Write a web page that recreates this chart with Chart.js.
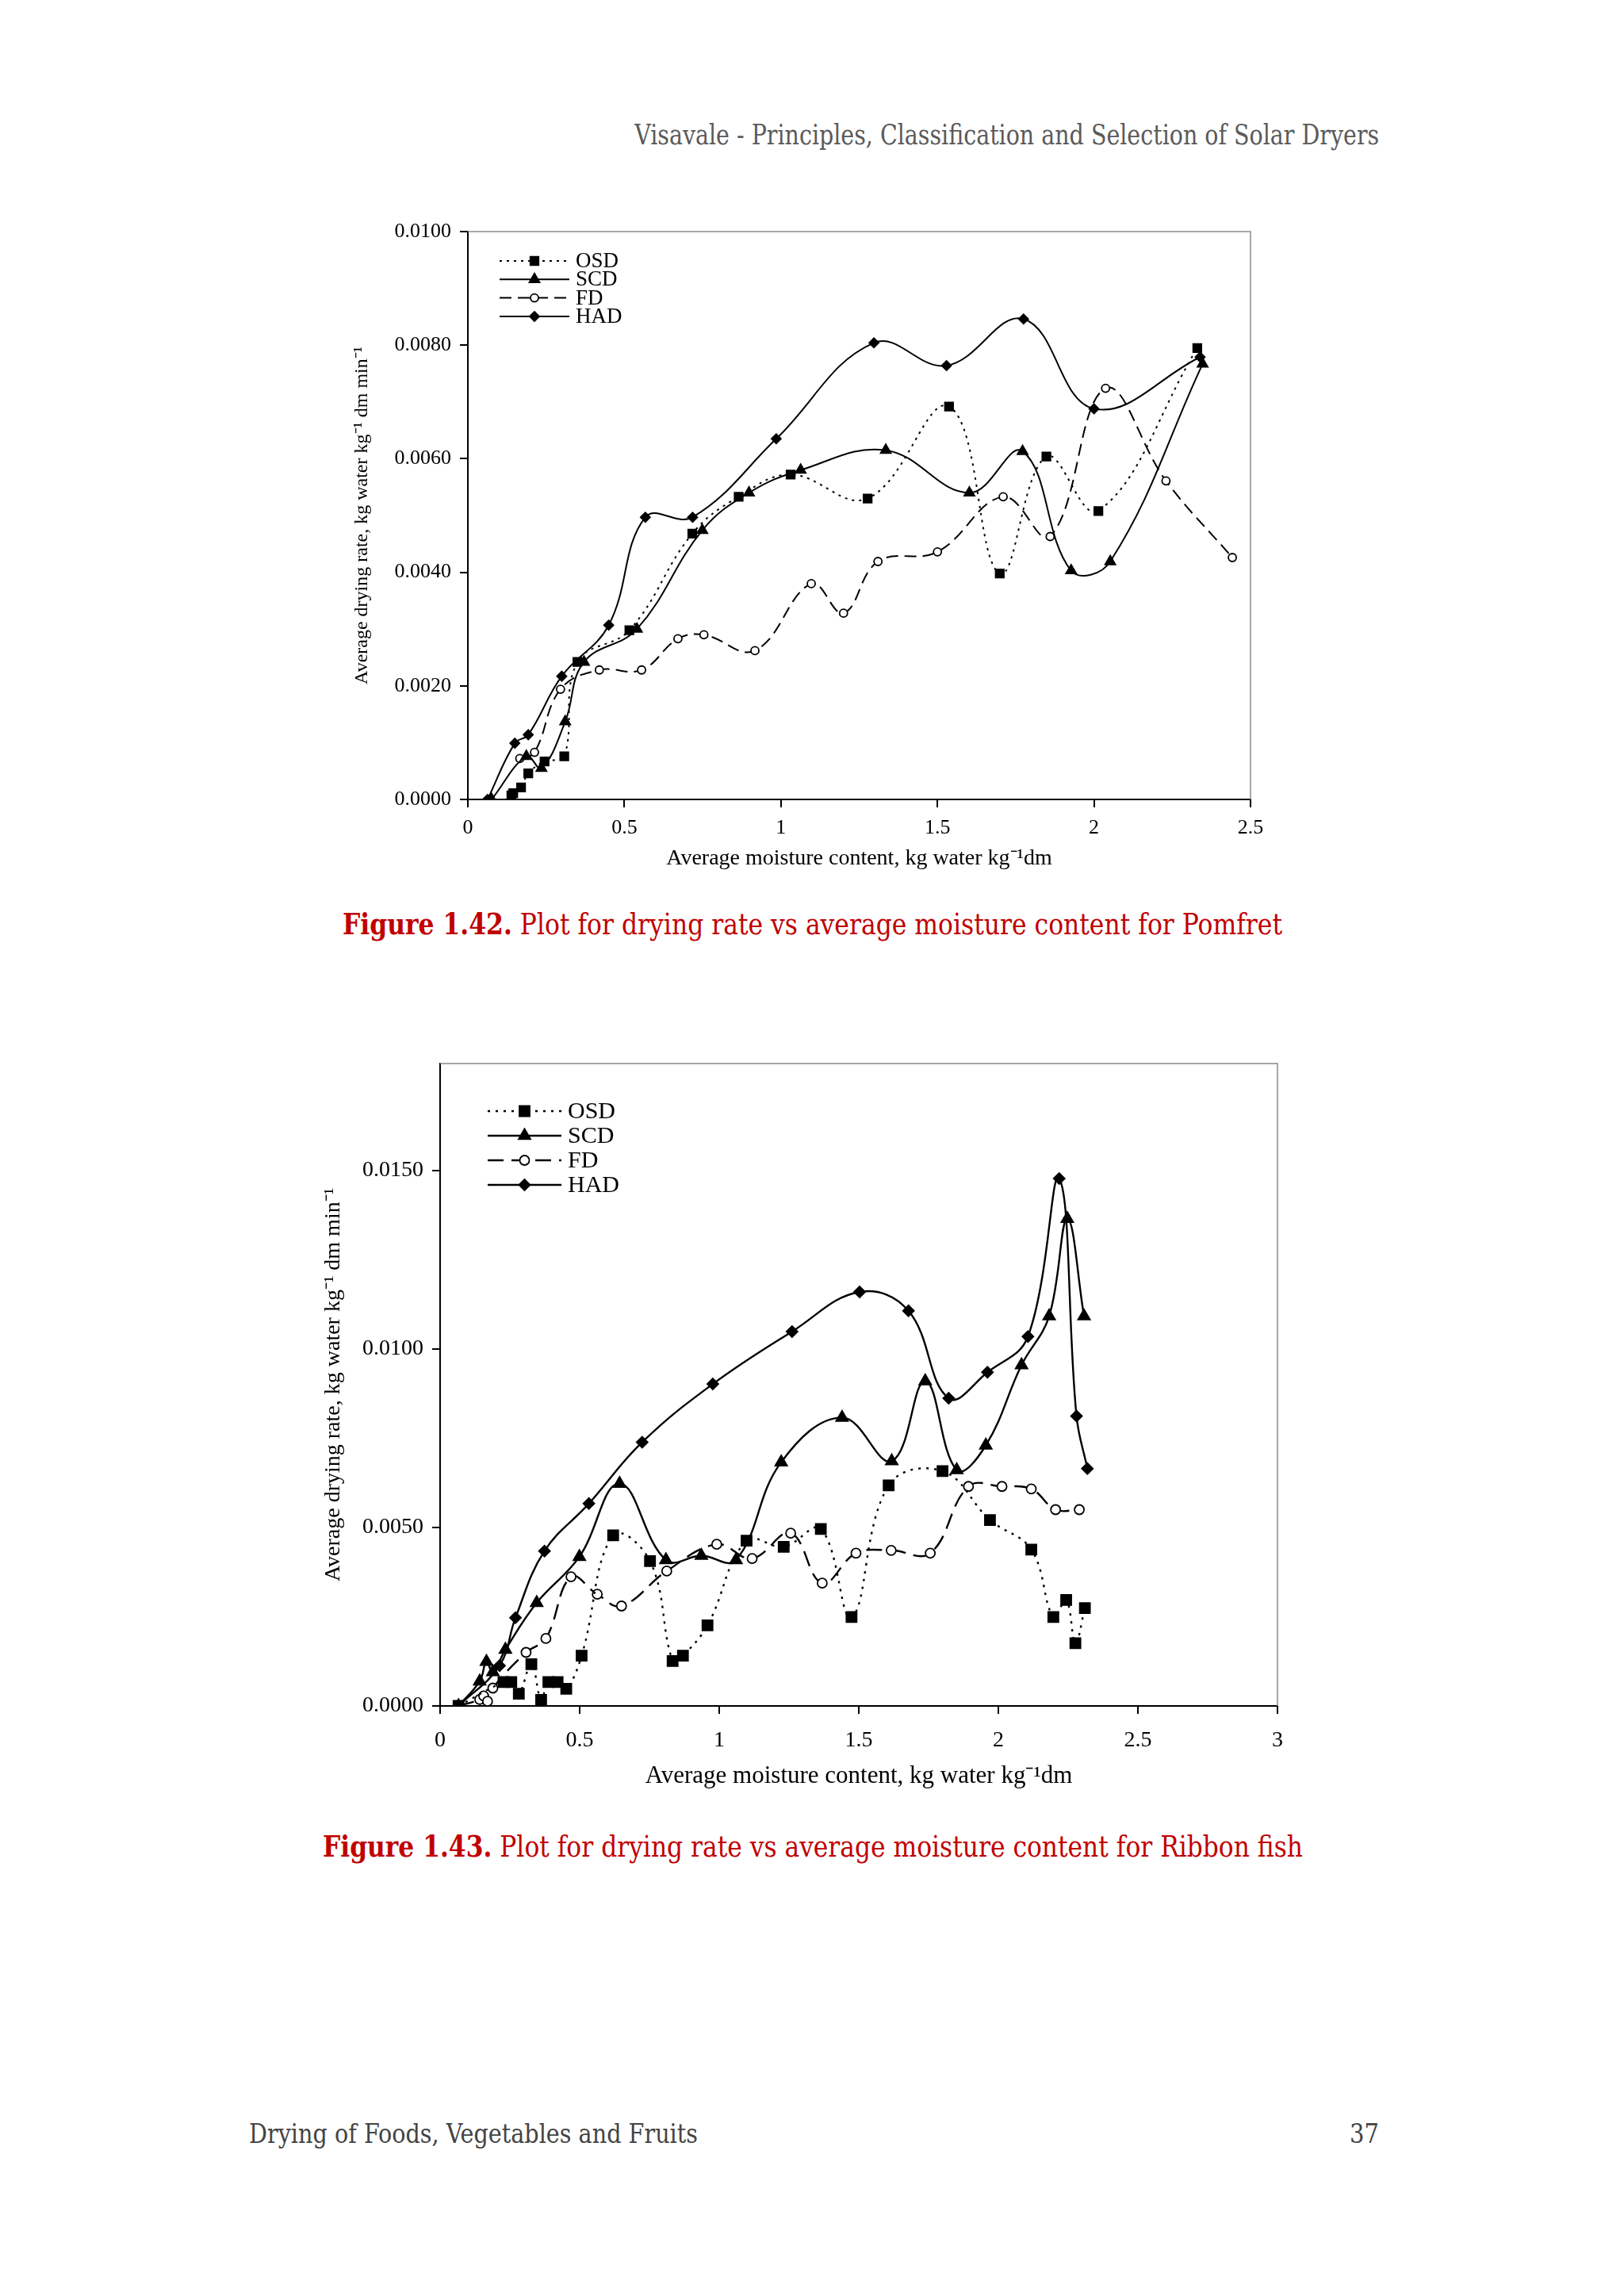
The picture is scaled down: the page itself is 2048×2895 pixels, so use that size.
<!DOCTYPE html>
<html>
<head>
<meta charset="utf-8">
<script src="https://cdn.jsdelivr.net/npm/chart.js@4.4.1/dist/chart.umd.min.js"></script>
<style>
  html, body { margin: 0; padding: 0; background: #fff; }
  body { width: 2048px; height: 2895px; position: relative; overflow: hidden; }
  .txt { position: absolute; white-space: nowrap; line-height: 1; display: inline-block; }
  #header { font-family: "DejaVu Serif", serif; font-stretch: condensed; color: #5a5a5a; font-size: 36px; transform-origin: right center; }
  .cap { font-family: "DejaVu Serif", serif; font-stretch: condensed; color: #c00000; font-size: 37px; transform-origin: left center; }
  #footer, #pageno { font-family: "DejaVu Serif", serif; font-stretch: condensed; color: #444; font-size: 34px; }
  #footer { transform-origin: left center; }
  #pageno { transform-origin: right center; }
  canvas { position: absolute; }
</style>
</head>
<body>
<div id="header" class="txt fit" data-w="939" data-r="1739" style="top:152px">Visavale - Principles, Classification and Selection of Solar Dryers</div>

<canvas id="chart1" width="1220" height="880" style="left:400px; top:262px"></canvas>
<div id="cap1" class="txt cap fit" data-w="1185" style="left:432px; top:1147px"><b>Figure 1.42.</b> Plot for drying rate vs average moisture content for Pomfret</div>

<canvas id="chart2" width="1270" height="960" style="left:380px; top:1310px"></canvas>
<div id="cap2" class="txt cap fit" data-w="1236" style="left:407px; top:2310px"><b>Figure 1.43.</b> Plot for drying rate vs average moisture content for Ribbon fish</div>

<div id="footer" class="txt fit" data-w="566" style="left:314px; top:2673px">Drying of Foods, Vegetables and Fruits</div>
<div id="pageno" class="txt fit" data-w="37" data-r="1739" style="top:2673px">37</div>

<script>
// ─── Figure 1.42 — Pomfret ───────────────────────────────────────────────
const pomOsdX = [0.139, 0.145, 0.170, 0.193, 0.245, 0.308, 0.350, 0.516, 0.717, 0.865, 1.031, 1.277, 1.537, 1.699, 1.848, 2.014, 2.330];
const pomOsdY = [0.00007, 0.00011, 0.00021, 0.00046, 0.00067, 0.00076, 0.00242, 0.00298, 0.00468, 0.00533, 0.00572, 0.00530, 0.00692, 0.00398, 0.00604, 0.00508, 0.00795];
const pomScdX = [0.076, 0.187, 0.235, 0.311, 0.371, 0.540, 0.749, 0.898, 1.063, 1.335, 1.602, 1.772, 1.927, 2.052, 2.347];
const pomScdY = [0.0000, 0.00076, 0.00055, 0.00137, 0.00242, 0.00300, 0.00474, 0.00540, 0.00580, 0.00615, 0.00540, 0.00613, 0.00403, 0.00419, 0.00767];
const pomFdX = [0.166, 0.213, 0.296, 0.420, 0.555, 0.671, 0.754, 0.917, 1.097, 1.200, 1.310, 1.500, 1.710, 1.860, 2.037, 2.230, 2.442];
const pomFdY = [0.00072, 0.00083, 0.00194, 0.00228, 0.00228, 0.00283, 0.00290, 0.00262, 0.00380, 0.00328, 0.00419, 0.00436, 0.00533, 0.00463, 0.00724, 0.00561, 0.00426];
const pomHadX = [0.063, 0.150, 0.193, 0.300, 0.450, 0.567, 0.718, 0.985, 1.297, 1.529, 1.775, 2.000, 2.339];
const pomHadY = [0.0000, 0.00099, 0.00114, 0.00217, 0.00307, 0.00497, 0.00497, 0.00635, 0.00804, 0.00764, 0.00846, 0.00688, 0.00779];

// ─── Figure 1.43 — Ribbon fish ───────────────────────────────────────────
const ribOsdX = [0.066, 0.227, 0.255, 0.282, 0.327, 0.362, 0.388, 0.421, 0.452, 0.507, 0.620, 0.752, 0.833, 0.870, 0.958, 1.098, 1.231, 1.364, 1.474, 1.607, 1.800, 1.970, 2.118, 2.197, 2.243, 2.276, 2.310];
const ribOsdY = [0.0000, 0.00067, 0.00067, 0.00034, 0.00117, 0.00017, 0.00067, 0.00067, 0.00048, 0.00141, 0.00478, 0.00406, 0.00126, 0.00141, 0.00226, 0.00463, 0.00446, 0.00496, 0.00249, 0.00618, 0.00658, 0.00521, 0.00438, 0.00249, 0.00297, 0.00176, 0.00274];
const ribScdX = [0.066, 0.142, 0.166, 0.189, 0.234, 0.346, 0.499, 0.643, 0.809, 0.936, 1.060, 1.222, 1.440, 1.618, 1.738, 1.851, 1.955, 2.083, 2.182, 2.247, 2.307];
const ribScdY = [0.0000, 0.00069, 0.00124, 0.00095, 0.00158, 0.00289, 0.00418, 0.00623, 0.00409, 0.00421, 0.00409, 0.00683, 0.00808, 0.00686, 0.00910, 0.00661, 0.00730, 0.00955, 0.01092, 0.01365, 0.01092];
const ribFdX = [0.066, 0.142, 0.156, 0.170, 0.189, 0.308, 0.379, 0.469, 0.563, 0.650, 0.812, 0.991, 1.118, 1.256, 1.369, 1.490, 1.616, 1.756, 1.893, 2.013, 2.118, 2.205, 2.290];
const ribFdY = [0.0000, 0.00018, 0.00028, 0.00013, 0.00050, 0.00150, 0.00189, 0.00362, 0.00313, 0.00280, 0.00378, 0.00453, 0.00413, 0.00484, 0.00344, 0.00428, 0.00436, 0.00428, 0.00615, 0.00615, 0.00608, 0.00550, 0.00550];
const ribHadX = [0.066, 0.213, 0.270, 0.374, 0.533, 0.724, 0.977, 1.261, 1.503, 1.678, 1.822, 1.961, 2.106, 2.218, 2.280, 2.319];
const ribHadY = [0.0000, 0.00113, 0.00247, 0.00434, 0.00567, 0.00739, 0.00902, 0.01049, 0.01160, 0.01107, 0.00862, 0.00935, 0.01035, 0.01478, 0.00812, 0.00665];

const seriesNames = ['OSD', 'SCD', 'FD', 'HAD'];
const xTitle = 'Average moisture content, kg water kg\u207B\u00B9dm';
const yTitle = 'Average drying rate, kg water kg\u207B\u00B9 dm min\u207B\u00B9';

const FONT = '"Liberation Serif", "Times New Roman", serif';
const zip = (xs, ys) => xs.map((x, i) => ({ x, y: ys[i] }));

// ─── Fit page text to measured widths ────────────────────────────────────

document.querySelectorAll('.fit').forEach(el => {
  const w = el.getBoundingClientRect().width;
  const target = +el.dataset.w;
  el.style.transform = `scaleX(${target / w})`;
  if (el.dataset.r) el.style.left = (+el.dataset.r - w) + 'px';
});

// ─── Plugins ─────────────────────────────────────────────────────────────

// thin grey frame on the top/right of the plot area
const framePlugin = {
  id: 'frame',
  beforeDatasetsDraw(chart) {
    const { ctx, chartArea: a } = chart;
    ctx.save();
    ctx.strokeStyle = '#8a8a8a';
    ctx.lineWidth = 1.5;
    ctx.beginPath();
    ctx.moveTo(a.left, a.top);
    ctx.lineTo(a.right, a.top);
    ctx.lineTo(a.right, a.bottom);
    ctx.stroke();
    ctx.restore();
  },
};

// Excel-style legend: line sample with the marker in the middle
const legendPlugin = {
  id: 'xlLegend',
  afterDatasetsDraw(chart, args, opts) {
    const { ctx, chartArea: a } = chart;
    ctx.save();
    chart.data.datasets.forEach((ds, i) => {
      const y = a.top + opts.top + i * opts.row;
      const x1 = a.left + opts.x1, x2 = a.left + opts.x2;
      ctx.strokeStyle = '#000';
      ctx.lineWidth = ds.borderWidth;
      ctx.setLineDash(ds.borderDash || []);
      ctx.beginPath();
      ctx.moveTo(x1, y);
      ctx.lineTo(x2, y);
      ctx.stroke();
      ctx.setLineDash([]);
      ctx.fillStyle = ds.pointBackgroundColor;
      ctx.strokeStyle = '#000';
      ctx.lineWidth = ds.pointBorderWidth;
      Chart.helpers.drawPoint(ctx, { pointStyle: ds.pointStyle, radius: ds.pointRadius, rotation: 0, borderWidth: ds.pointBorderWidth }, (x1 + x2) / 2, y);
      ctx.fillStyle = '#000';
      ctx.font = `${opts.fontSize}px ${FONT}`;
      ctx.textBaseline = 'middle';
      ctx.fillText(ds.label, a.left + opts.tx, y + 1);
    });
    ctx.restore();
  },
};

// ─── Chart builder ───────────────────────────────────────────────────────

function makeChart(id, cfg) {
  const styles = [
    { borderDash: cfg.dot, pointStyle: 'rect', pointRadius: cfg.r.sq, pointBackgroundColor: '#000' },
    { borderDash: [], pointStyle: 'triangle', pointRadius: cfg.r.tri, pointBackgroundColor: '#000' },
    { borderDash: cfg.dash, pointStyle: 'circle', pointRadius: cfg.r.circ, pointBackgroundColor: '#fff' },
    { borderDash: [], pointStyle: 'rectRot', pointRadius: cfg.r.dia, pointBackgroundColor: '#000' },
  ];
  const datasets = cfg.series.map((s, i) => ({
    label: seriesNames[i],
    data: zip(s[0], s[1]),
    showLine: true,
    tension: 0.4,
    borderColor: '#000',
    borderWidth: cfg.lw,
    pointBorderColor: '#000',
    pointBorderWidth: 1.8,
    pointHoverRadius: styles[i].pointRadius,
    ...styles[i],
  }));

  const tickGrid = { display: true, drawOnChartArea: false, drawTicks: true, tickLength: 10, color: '#000', lineWidth: 2 };
  const border = { display: true, color: '#000', width: 2 };

  return new Chart(document.getElementById(id), {
    type: 'scatter',
    data: { datasets },
    options: {
      responsive: false,
      animation: false,
      devicePixelRatio: 1,
      layout: { padding: { top: cfg.padTop, right: cfg.padRight, left: 0, bottom: 0 } },
      plugins: {
        legend: { display: false },
        tooltip: { enabled: false },
        xlLegend: cfg.legend,
      },
      scales: {
        x: {
          type: 'linear', min: 0, max: cfg.xMax,
          border, grid: tickGrid,
          ticks: { stepSize: 0.5, padding: cfg.xPad, color: '#000', font: { family: FONT, size: cfg.fs },
                   callback: v => String(+v.toFixed(2)) },
          title: { display: true, text: xTitle, color: '#000', font: { family: FONT, size: cfg.xts }, padding: { top: 0, bottom: cfg.xtPad } },
          afterFit: s => { s.height = cfg.xH; },
        },
        y: {
          type: 'linear', min: 0, max: cfg.yMax,
          border, grid: tickGrid,
          ticks: { stepSize: cfg.yStep, padding: 11, color: '#000', font: { family: FONT, size: cfg.fs },
                   callback: v => v.toFixed(4) },
          afterBuildTicks: s => {
            s.ticks = s.ticks.filter(t => Math.abs(t.value / cfg.yStep - Math.round(t.value / cfg.yStep)) < 1e-6);
          },
          title: { display: true, text: yTitle, color: '#000', font: { family: FONT, size: cfg.yts }, padding: { top: cfg.ytPad, bottom: 0 } },
          afterFit: s => { s.width = cfg.yW; },
        },
      },
    },
    plugins: [framePlugin, legendPlugin],
  });
}

makeChart('chart1', {
  series: [[pomOsdX, pomOsdY], [pomScdX, pomScdY], [pomFdX, pomFdY], [pomHadX, pomHadY]],
  xMax: 2.5, yMax: 0.01, yStep: 0.002,
  yW: 190, xH: 134, padTop: 30, padRight: 43,
  fs: 26, xts: 28, yts: 24, xPad: 11, xtPad: 43, ytPad: 42,
  lw: 2, dot: [3, 6], dash: [15, 8],
  r: { sq: 7.4, tri: 7.5, circ: 5, dia: 6 },
  legend: { x1: 40, x2: 128, tx: 136, top: 37, row: 23.3, fontSize: 27 },
});

makeChart('chart2', {
  series: [[ribOsdX, ribOsdY], [ribScdX, ribScdY], [ribFdX, ribFdY], [ribHadX, ribHadY]],
  xMax: 3, yMax: 0.018, yStep: 0.005,
  yW: 175, xH: 119, padTop: 31, padRight: 39,
  fs: 28, xts: 31, yts: 28, xPad: 17, xtPad: 12, ytPad: 24,
  lw: 2.4, dot: [3, 7], dash: [20, 10],
  r: { sq: 9.2, tri: 8.7, circ: 6, dia: 7 },
  legend: { x1: 60, x2: 153, tx: 161, top: 60, row: 31, fontSize: 30 },
});
</script>
</body>
</html>
